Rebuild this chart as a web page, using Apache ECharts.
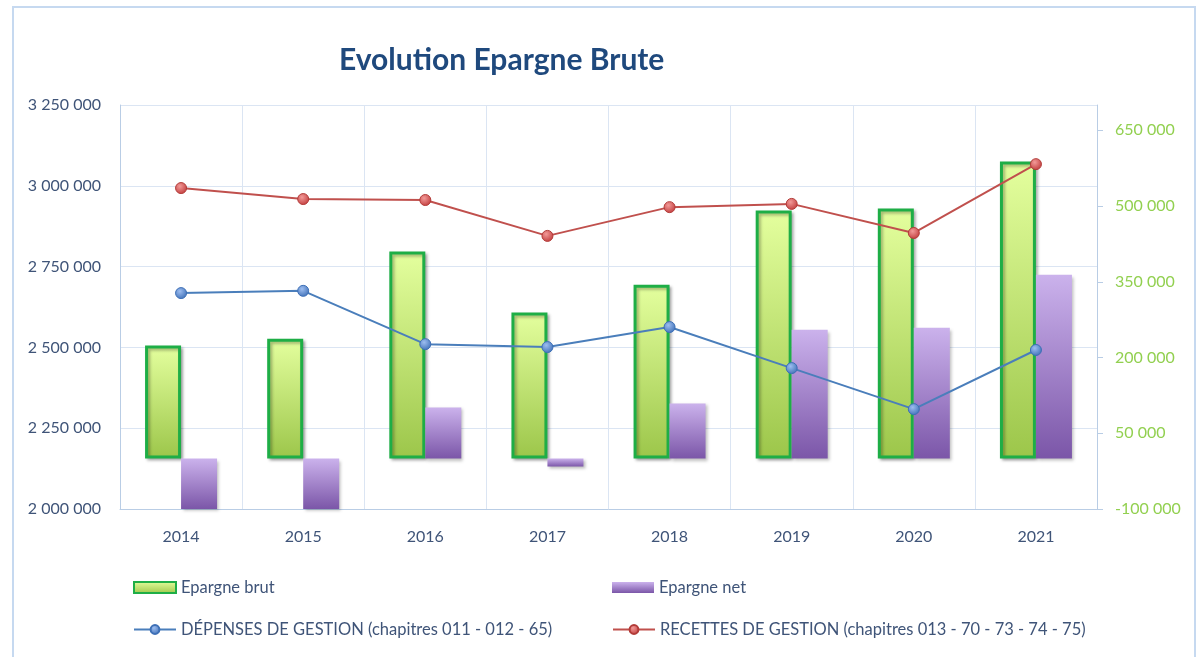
<!DOCTYPE html>
<html lang="fr">
<head>
    <meta charset="utf-8">
    <script type="text/javascript" src="https://cdn.jsdelivr.net/npm/echarts@6/dist/echarts.min.js"></script>
</head>
<body style="height: 100%; margin: 0; background: #fff">
<div id="container" style="width:1200px;height:657px"></div>

<script type="text/javascript">
    // donnees
    var years = ['2014', '2015', '2016', '2017', '2018', '2019', '2020', '2021'];
    var epargneBrut = [224000, 237000, 410000, 289000, 344000, 491000, 495000, 588000];
    var epargneNet = [-100000, -100000, 101000, -16000, 109000, 255000, 259000, 364000];
    var depenses = [2668000, 2675000, 2510000, 2501000, 2563000, 2436000, 2309000, 2492000];
    var recettes = [2993000, 2959000, 2956000, 2845000, 2934000, 2944000, 2854000, 3067000];

    var nameBrut = 'Epargne brut';
    var nameNet = 'Epargne net';
    var nameDep = 'DÉPENSES DE GESTION (chapitres 011 - 012 - 65)';
    var nameRec = 'RECETTES DE GESTION (chapitres 013 - 70 - 73 - 74 - 75)';

    var font = 'Lato, "Open Sans", sans-serif';
    var gridColor = '#dbe5f3';
    var axisColor = '#b9cde5';
    var textColor = '#3f5478';

    function fmt(v) {
        return String(v).replace(/\B(?=(\d{3})+(?!\d))/g, ' ');
    }

    function legendAt(name, left, top, icon) {
        var lg = {
            data: [name],
            left: left,
            top: top,
            padding: 0,
            itemWidth: 42,
            itemHeight: 11,
            textStyle: {color: textColor, fontSize: 16.5, fontFamily: font}
        };
        if (icon) lg.icon = icon;
        return lg;
    }

    var dom = document.getElementById("container");
    var myChart = echarts.init(dom);

    var option = {
        animation: false,
        title: {
            text: 'Evolution Epargne Brute',
            left: 334,
            top: 40,
            textStyle: {color: '#1f497d', fontSize: 30, fontWeight: 'bold', fontFamily: font}
        },
        graphic: [{
            type: 'rect',
            shape: {x: 13, y: 7, width: 1182, height: 665},
            style: {fill: 'none', stroke: '#c6d9f0', lineWidth: 2}
        }],
        legend: [
            legendAt(nameBrut, 133, 579, 'rect'),
            legendAt(nameNet, 612, 579, 'rect'),
            legendAt(nameDep, 133, 621),
            legendAt(nameRec, 612, 621)
        ],
        grid: {left: 120, right: 103, top: 105, bottom: 148},
        xAxis: {
            type: 'category',
            data: years,
            axisLine: {onZero: false, lineStyle: {color: axisColor}},
            axisTick: {show: false},
            axisLabel: {color: textColor, fontSize: 16, fontFamily: font, margin: 20},
            splitLine: {show: true, lineStyle: {color: gridColor}}
        },
        yAxis: [{
            type: 'value',
            min: 2000000,
            max: 3250000,
            interval: 250000,
            axisLine: {show: true, lineStyle: {color: axisColor}},
            axisTick: {show: false},
            axisLabel: {color: textColor, fontSize: 16, fontFamily: font, margin: 19, formatter: fmt},
            splitLine: {lineStyle: {color: gridColor}}
        }, {
            type: 'value',
            position: 'right',
            min: -100000,
            max: 700000,
            interval: 150000,
            axisLine: {show: true, lineStyle: {color: axisColor}},
            axisTick: {show: true, length: 6, lineStyle: {color: axisColor}},
            axisLabel: {color: '#92d050', fontSize: 16, fontFamily: font, margin: 18,
                showMaxLabel: false, formatter: fmt},
            splitLine: {show: false}
        }],
        series: [{
            name: nameBrut,
            type: 'bar',
            yAxisIndex: 1,
            data: epargneBrut,
            barWidth: 36,
            barGap: '0%',
            itemStyle: {
                color: new echarts.graphic.LinearGradient(0, 0, 0, 1, [
                    {offset: 0, color: '#e4ff9e'},
                    {offset: 1, color: '#9cc64a'}
                ]),
                borderColor: '#1eae46',
                borderWidth: 3,
                shadowBlur: 3,
                shadowOffsetX: 2,
                shadowOffsetY: 2,
                shadowColor: 'rgba(0,0,0,0.3)'
            }
        }, {
            name: nameNet,
            type: 'bar',
            yAxisIndex: 1,
            data: epargneNet,
            barWidth: 36,
            itemStyle: {
                color: new echarts.graphic.LinearGradient(0, 0, 0, 1, [
                    {offset: 0, color: '#cbb2ec'},
                    {offset: 1, color: '#7b56a8'}
                ]),
                shadowBlur: 3,
                shadowOffsetX: 2,
                shadowOffsetY: 2,
                shadowColor: 'rgba(0,0,0,0.25)'
            }
        }, {
            name: nameDep,
            type: 'line',
            yAxisIndex: 0,
            data: depenses,
            symbol: 'circle',
            symbolSize: 11,
            z: 5,
            lineStyle: {color: '#4a7ebb', width: 2},
            itemStyle: {
                color: new echarts.graphic.RadialGradient(0.4, 0.35, 0.7, [
                    {offset: 0, color: '#9dbdf0'},
                    {offset: 1, color: '#3d6fb6'}
                ]),
                borderColor: '#3d6fb6',
                borderWidth: 1
            }
        }, {
            name: nameRec,
            type: 'line',
            yAxisIndex: 0,
            data: recettes,
            symbol: 'circle',
            symbolSize: 11,
            z: 5,
            lineStyle: {color: '#c0504d', width: 2},
            itemStyle: {
                color: new echarts.graphic.RadialGradient(0.4, 0.35, 0.7, [
                    {offset: 0, color: '#f29a98'},
                    {offset: 1, color: '#c0393a'}
                ]),
                borderColor: '#b23b38',
                borderWidth: 1
            }
        }]
    };

    myChart.setOption(option);
</script>
</body>
</html>
